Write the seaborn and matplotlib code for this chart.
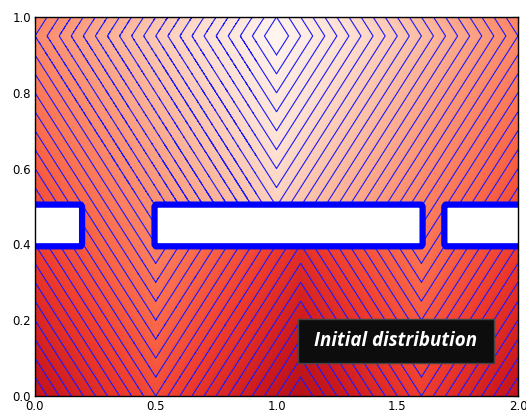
import numpy as np
import matplotlib
matplotlib.use("Agg")
import matplotlib.pyplot as plt
from matplotlib.patches import Rectangle
import seaborn as sns

# ---- data ----
source = [1.0, 0.95]                      # source point (x, y) of the distance field
barrier_y = [0.40, 0.50]                  # vertical extent of the barrier band
obstacles_x = [[0.0, 0.19], [0.50, 1.60], [1.70, 2.0]]   # solid pieces of the barrier
gaps_x = [[0.19, 0.50], [1.60, 1.70]]     # openings in the barrier
level_step = 0.05
color_range = [0.0, 2.5]
x_ticks = [0.0, 0.5, 1.0, 1.5, 2.0]
y_ticks = [0.0, 0.2, 0.4, 0.6, 0.8, 1.0]
label = "Initial distribution"

sns.set_theme(style="white")
plt.rcParams["font.family"] = ["DejaVu Sans"]

x = np.linspace(0, 2, 801)
y = np.linspace(0, 1, 401)
X, Y = np.meshgrid(x, y)
sx, sy = source

# L1 geodesic distance: above the barrier, straight Manhattan distance;
# below, the path has to cross through one of the gaps.
Z_free = np.abs(X - sx) + np.abs(Y - sy)
best = np.full_like(X, np.inf)
for a, b in gaps_x:
    cands = [np.full_like(X, a), np.full_like(X, b),
             np.full_like(X, np.clip(sx, a, b)), np.clip(X, a, b)]
    for c in cands:
        best = np.minimum(best, np.abs(sx - c) + np.abs(X - c))
Z_below = np.abs(sy - Y) + best
Z = np.where(Y >= barrier_y[1], Z_free, Z_below)


def obstacle_mask(XX, YY):
    m = np.zeros_like(XX, dtype=bool)
    for a, b in obstacles_x:
        m |= (XX >= a - 1e-9) & (XX <= b + 1e-9) & \
             (YY >= barrier_y[0] - 1e-9) & (YY <= barrier_y[1] + 1e-9)
    return m


mask = obstacle_mask(X, Y)
Zm = np.ma.masked_array(Z, mask)

# coarser grid for the outline so its corners come out slightly rounded
xc = np.linspace(0, 2, 201)
yc = np.linspace(0, 1, 101)
Xc, Yc = np.meshgrid(xc, yc)
mask_c = obstacle_mask(Xc, Yc).astype(float)

fig = plt.figure(figsize=(5.26, 4.15), dpi=100)
ax = fig.add_axes([35/526, 19/415, 483/526, 379/415])
ax.set_facecolor("white")

cmap = sns.color_palette("Reds", as_cmap=True)
ax.pcolormesh(X, Y, Zm, cmap=cmap, vmin=color_range[0], vmax=color_range[1],
              shading="gouraud", rasterized=True)
levels = np.arange(level_step, Z.max() + level_step, level_step)
ax.contour(X, Y, Zm, levels=levels, colors="#1a1aff", linewidths=0.8)
cs = ax.contour(Xc, Yc, mask_c, levels=[0.5], colors="#0000ff", linewidths=4.5)
cs.set_joinstyle("round")
cs.set_capstyle("round")

ax.set_xlim(0, 2)
ax.set_ylim(0, 1)
ax.set_xticks(x_ticks)
ax.set_yticks(y_ticks)
ax.set_xticklabels([f"{v:.1f}" for v in x_ticks])
ax.set_yticklabels([f"{v:.1f}" for v in y_ticks])
ax.tick_params(direction="in", length=4, width=0.8, top=True, right=True,
               labelsize=8.5, colors="black", pad=3)
for s in ax.spines.values():
    s.set_color("black")
    s.set_linewidth(1.0)
    s.set_zorder(10)

ax.add_patch(Rectangle((1.09, 0.087), 0.81, 0.116, facecolor="#0d0d0d",
                       edgecolor="#444444", linewidth=1, zorder=5))
ax.text(1.495, 0.146, label, ha="center", va="center", color="white",
        fontsize=13.5, fontstyle="italic", fontweight="bold",
        family=["Open Sans", "DejaVu Sans"], zorder=6)

fig.savefig("out.png", dpi=100)
